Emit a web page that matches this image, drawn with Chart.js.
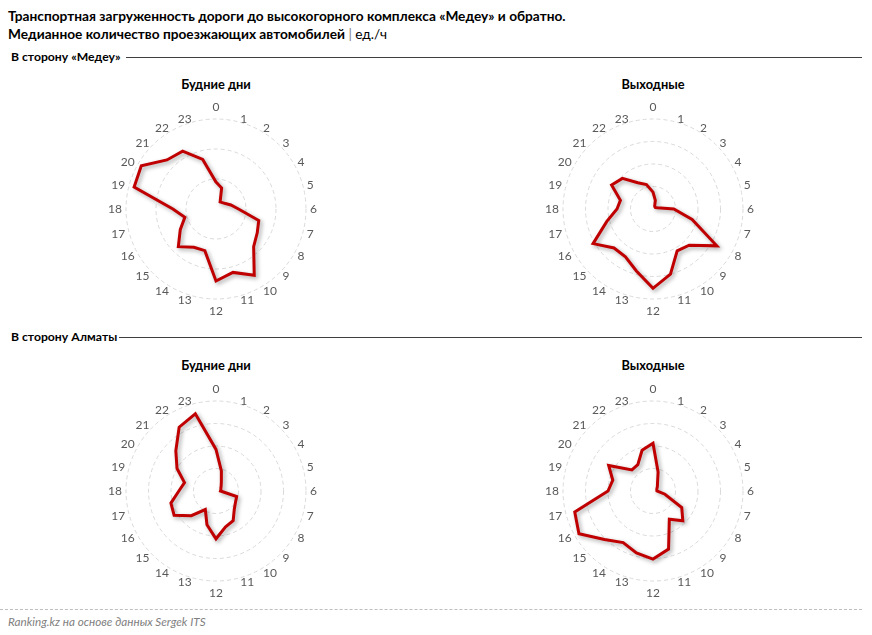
<!DOCTYPE html>
<html><head><meta charset="utf-8">
<script src="https://cdn.jsdelivr.net/npm/chart.js@4"></script>
<style>
html,body{margin:0;padding:0;background:#fff;}
body{width:872px;height:635px;position:relative;overflow:hidden;font-family:Lato,"Open Sans",sans-serif;}
.t{position:absolute;white-space:nowrap;color:#000;}
.title{font-size:13.7px;font-weight:bold;line-height:18px;left:8px;}
.sec{font-size:12.2px;font-weight:bold;line-height:14px;left:11px;}
.sub{font-size:12.8px;font-weight:bold;line-height:14px;width:200px;text-align:center;}
.hline{position:absolute;height:0;border-top:1px solid #404040;}
canvas{position:absolute;}
.foot{font-size:11.7px;font-style:italic;color:#7f7f7f;line-height:14px;left:8px;top:614px;}
.dash{position:absolute;left:0;width:862px;top:609px;border-top:1px dashed #bfbfbf;}
</style></head>
<body>
<div class="t title" style="top:7px">Транспортная загруженность дороги до высокогорного комплекса «Медеу» и обратно.</div>
<div class="t title" style="top:25px">Медианное количество проезжающих автомобилей <span style="font-weight:normal;color:#7f7f7f">|</span> <span style="font-weight:normal">ед./ч</span></div>

<div class="t sec" style="top:50px">В сторону «Медеу»</div>
<div class="hline" style="left:126px;width:736px;top:57px"></div>
<div class="t sub" style="left:116px;top:77px">Будние дни</div>
<div class="t sub" style="left:553px;top:77px">Выходные</div>

<div class="t sec" style="top:330px">В сторону Алматы</div>
<div class="hline" style="left:119px;width:743px;top:337px"></div>
<div class="t sub" style="left:116px;top:358px">Будние дни</div>
<div class="t sub" style="left:553px;top:358px">Выходные</div>

<canvas id="c1" width="300" height="240" style="left:66px;top:89px;width:300px;height:240px"></canvas>
<canvas id="c2" width="300" height="240" style="left:503px;top:89px;width:300px;height:240px"></canvas>
<canvas id="c3" width="300" height="240" style="left:66px;top:371px;width:300px;height:240px"></canvas>
<canvas id="c4" width="300" height="240" style="left:503px;top:371px;width:300px;height:240px"></canvas>

<div class="dash"></div>
<div class="t foot">Ranking.kz на основе данных Sergek ITS</div>

<script>
// Hours of the day (axis labels)
const hours = ['0','1','2','3','4','5','6','7','8','9','10','11','12','13','14','15','16','17','18','19','20','21','22','23'];

// Median vehicles per hour
const toMedeuWeekdays = [360,290,110,120,145,205,300,590,635,710,1020,875,960,575,590,710,550,430,575,1130,1150,925,890,685];
const toMedeuWeekends = [150,80,30,25,25,40,185,360,655,455,430,600,705,570,490,490,615,425,320,300,425,385,270,225];
const toAlmatyWeekdays = [370,185,95,65,50,45,40,190,200,230,305,330,425,310,190,310,430,415,330,290,400,505,655,710];
const toAlmatyWeekends = [425,175,80,55,40,35,35,110,295,375,290,535,605,570,530,610,760,720,400,370,455,265,270,375];

// Radial axis ranges
const axisMax = [1200, 800, 800, 800];
const axisStep = [400, 200, 200, 200];

const shadowPlugin = {
  id: 'lineShadow',
  beforeDatasetDraw(chart) {
    const c = chart.ctx;
    c.save();
    c.shadowColor = 'rgba(0,0,0,0.35)';
    c.shadowBlur = 4;
    c.shadowOffsetX = 2;
    c.shadowOffsetY = 2;
  },
  afterDatasetDraw(chart) { chart.ctx.restore(); }
};

// Hour labels placed around the radial scale (Excel-like placement)
const hourLabelPlugin = {
  id: 'hourLabels',
  afterDraw(chart) {
    const scale = chart.scales.r;
    const ctx = chart.ctx;
    const labels = chart.data.labels;
    const n = labels.length;
    ctx.save();
    ctx.font = '12px Lato';
    ctx.fillStyle = '#595959';
    ctx.textAlign = 'center';
    ctx.textBaseline = 'middle';
    labels.forEach((lab, i) => {
      const w = ctx.measureText(lab).width;
      const s = Math.sin(i * 2 * Math.PI / n);
      const axial = Math.abs(s) < 1e-6;
      const p = scale.getPointPosition(i, scale.drawingArea + (axial ? 12 : 4));
      const dx = axial ? 0 : Math.sign(s) * w / 2;
      ctx.fillText(lab, p.x + dx, p.y + 0.5);
    });
    ctx.restore();
  }
};

function makeRadar(id, data, max, step) {
  new Chart(document.getElementById(id), {
    type: 'radar',
    data: {
      labels: hours,
      datasets: [{
        data: data,
        borderColor: '#C00000',
        borderWidth: 3,
        fill: false,
        pointRadius: 0,
        pointHoverRadius: 0,
        tension: 0,
        borderJoinStyle: 'miter'
      }]
    },
    options: {
      responsive: false,
      animation: false,
      devicePixelRatio: 1,
      layout: { padding: { top: 30, bottom: 30, left: 60, right: 60 } },
      plugins: { legend: { display: false }, tooltip: { enabled: false }, title: { display: false } },
      scales: {
        r: {
          min: 0,
          max: max,
          ticks: { display: false, stepSize: step },
          angleLines: { display: false },
          grid: { circular: true, color: '#d9d9d9', lineWidth: 1 },
          border: { dash: [4, 3] },
          pointLabels: { display: false }
        }
      }
    },
    plugins: [shadowPlugin, hourLabelPlugin]
  });
}

makeRadar('c1', toMedeuWeekdays, axisMax[0], axisStep[0]);
makeRadar('c2', toMedeuWeekends, axisMax[1], axisStep[1]);
makeRadar('c3', toAlmatyWeekdays, axisMax[2], axisStep[2]);
makeRadar('c4', toAlmatyWeekends, axisMax[3], axisStep[3]);
</script>
</body></html>
